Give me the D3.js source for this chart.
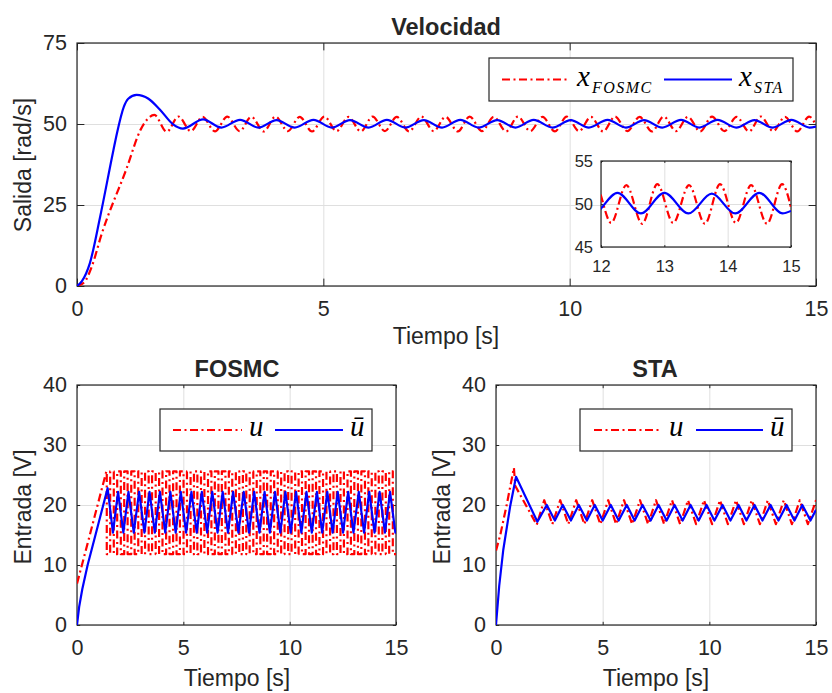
<!DOCTYPE html>
<html>
<head>
<meta charset="utf-8">
<script src="https://cdn.jsdelivr.net/npm/d3@7"></script>
<style>
body { margin: 0; background: #fff; }
text { font-family: "Liberation Sans", Arial, sans-serif; fill: #262626; }
.math { font-family: "Liberation Serif", "Times New Roman", serif; font-style: italic; fill: #000; }
</style>
</head>
<body>
<svg id="fig" width="832" height="693"></svg>
<script>
// ---- Velocidad: x_FOSMC (red) and x_STA (blue), time [s] / value [rad/s]
var velTimeFosmc = [0, 0.15, 0.3, 0.5, 1.0, 1.3, 1.57,
  1.82, 2.06, 2.31, 2.55, 2.80, 3.05, 3.30, 3.54, 3.79, 4.03, 4.28, 4.52, 4.77, 5.02,
  5.27, 5.51, 5.76, 6.00, 6.25, 6.49, 6.74, 6.99, 7.24, 7.48, 7.73, 7.97, 8.22, 8.46,
  8.71, 8.95, 9.20, 9.45, 9.70, 9.94, 10.19, 10.43, 10.68, 10.92, 11.17, 11.42, 11.67, 11.91,
  12.16, 12.40, 12.65, 12.89, 13.14, 13.39, 13.64, 13.88, 14.13, 14.37, 14.62, 14.86, 15.0];
var velFosmc = [0, 1.2, 6, 16, 36, 48.5, 52.8,
  47.6, 52.3, 47.8, 52.2, 47.7, 52.3, 47.8, 52.2, 47.7, 52.3, 47.8, 52.2, 47.7, 52.3,
  47.8, 52.2, 47.7, 52.3, 47.8, 52.2, 47.7, 52.3, 47.8, 52.2, 47.7, 52.3, 47.8, 52.2,
  47.7, 52.3, 47.8, 52.2, 47.7, 52.3, 47.8, 52.2, 47.7, 52.3, 47.8, 52.2, 47.7, 52.3,
  47.8, 52.2, 47.7, 52.3, 47.8, 52.2, 47.7, 52.3, 47.8, 52.2, 47.7, 52.3, 49.6];

var velTimeSta = [0, 0.1, 0.26, 0.47, 0.74, 0.81, 0.95, 1.04, 1.21, 1.45, 1.68, 1.95, 2.15,
  2.56, 2.93, 3.31, 3.68, 4.05, 4.42, 4.80, 5.17, 5.54, 5.92, 6.29, 6.66, 7.04, 7.41,
  7.78, 8.15, 8.53, 8.90, 9.27, 9.65, 10.02, 10.39, 10.77, 11.14, 11.51, 11.88, 12.26, 12.63,
  13.00, 13.38, 13.75, 14.12, 14.50, 14.87, 15.0];
var velSta = [0, 1.5, 7, 21.4, 42, 47.1, 55.3, 57.8, 59, 57.8, 54.5, 49.9, 48.6,
  51.4, 48.9, 51.3, 48.9, 51.2, 48.9, 51.3, 48.9, 51.2, 48.9, 51.3, 48.9, 51.2, 48.9,
  51.3, 48.9, 51.2, 48.9, 51.3, 48.9, 51.2, 48.9, 51.3, 48.9, 51.2, 48.9, 51.3, 48.9,
  51.3, 48.9, 51.2, 48.9, 51.3, 48.9, 49.2];

// ---- FOSMC: u (red, switching) and u-bar (blue)
var uRampTimeFosmc = [0, 0.5, 1.38];
var uRampFosmc = [6.9, 13.6, 25.6];
var uLevelsFosmc = [25.6, 11.8];   // high / low level of the switching input
var uSwitchFosmc = [1.40, 1.56, 1.73, 1.89, 2.06, 2.22, 2.38, 2.55, 2.71, 2.88, 3.04, 3.20,
  3.37, 3.53, 3.70, 3.86, 4.02, 4.19, 4.35, 4.52, 4.68, 4.84, 5.01, 5.17, 5.34, 5.50,
  5.66, 5.83, 5.99, 6.16, 6.32, 6.48, 6.65, 6.81, 6.98, 7.14, 7.30, 7.47, 7.63, 7.80,
  7.96, 8.12, 8.29, 8.45, 8.62, 8.78, 8.94, 9.11, 9.27, 9.44, 9.60, 9.76, 9.93, 10.09,
  10.26, 10.42, 10.58, 10.75, 10.91, 11.08, 11.24, 11.40, 11.57, 11.73, 11.90, 12.06,
  12.22, 12.39, 12.55, 12.72, 12.88, 13.04, 13.21, 13.37, 13.54, 13.70, 13.86, 14.03,
  14.19, 14.36, 14.52, 14.68, 14.85];

var uBarTimeFosmc = [0, 0.1, 0.25, 0.5, 1.0, 1.44,
  1.69, 1.93, 2.18, 2.42, 2.67, 2.92, 3.17, 3.41, 3.66, 3.90, 4.15, 4.39, 4.64, 4.88,
  5.13, 5.38, 5.63, 5.87, 6.12, 6.36, 6.61, 6.85, 7.10, 7.34, 7.59, 7.84, 8.09, 8.33,
  8.58, 8.82, 9.07, 9.31, 9.56, 9.80, 10.05, 10.30, 10.55, 10.79, 11.04, 11.28, 11.53, 11.77,
  12.02, 12.26, 12.51, 12.75, 13.00, 13.25, 13.50, 13.74, 13.99, 14.23, 14.48, 14.72, 14.97, 15.0];
var uBarFosmc = [0, 3, 6, 10, 16.8, 22.8,
  15.4, 22.2, 15.4, 22.2, 15.4, 22.2, 15.4, 22.2, 15.4, 22.2, 15.4, 22.2, 15.4, 22.2,
  15.4, 22.2, 15.4, 22.2, 15.4, 22.2, 15.4, 22.2, 15.4, 22.2, 15.4, 22.2, 15.4, 22.2,
  15.4, 22.2, 15.4, 22.2, 15.4, 22.2, 15.4, 22.2, 15.4, 22.2, 15.4, 22.2, 15.4, 22.2,
  15.4, 22.2, 15.4, 22.2, 15.4, 22.2, 15.4, 22.2, 15.4, 22.2, 15.4, 22.2, 15.4, 15.8];

// ---- STA: u (red) and u-bar (blue)
var uTimeSta = [0, 0.2, 0.5, 0.84, 0.9, 1.91,
  2.26, 2.64, 3.01, 3.39, 3.76, 4.14, 4.51, 4.89, 5.26, 5.63, 6.00, 6.38, 6.75, 7.13,
  7.50, 7.88, 8.25, 8.63, 9.00, 9.38, 9.75, 10.13, 10.50, 10.87, 11.25, 11.62, 11.99, 12.37,
  12.74, 13.12, 13.49, 13.87, 14.24, 14.62, 14.99, 15.0];
var uSta = [12.4, 15, 20, 26.2, 23.2, 16.7,
  20.8, 16.8, 20.8, 16.8, 20.8, 16.8, 20.8, 16.8, 20.8, 16.8, 20.8, 16.8, 20.8, 16.8,
  20.8, 16.8, 20.8, 16.8, 20.8, 16.8, 20.8, 16.8, 20.8, 16.8, 20.8, 16.8, 20.8, 16.8,
  20.8, 16.8, 20.8, 16.8, 20.8, 16.8, 20.7, 20.7];

var uBarTimeSta = [0, 0.15, 0.34, 0.66, 0.94, 1.94,
  2.38, 2.76, 3.13, 3.51, 3.88, 4.26, 4.63, 5.00, 5.38, 5.75, 6.13, 6.50, 6.87, 7.25,
  7.62, 8.00, 8.37, 8.75, 9.12, 9.50, 9.87, 10.24, 10.62, 10.99, 11.37, 11.74, 12.12, 12.49,
  12.87, 13.24, 13.62, 13.99, 14.36, 14.74, 15.0];
var uBarSta = [0, 6.5, 12.5, 19.7, 24.7, 17.2,
  20.0, 17.4, 20.0, 17.4, 20.0, 17.4, 20.0, 17.4, 20.0, 17.4, 20.0, 17.4, 20.0, 17.4,
  20.0, 17.4, 20.0, 17.4, 20.0, 17.4, 20.0, 17.4, 20.0, 17.4, 20.0, 17.4, 20.0, 17.4,
  20.0, 17.4, 20.0, 17.4, 20.0, 17.4, 19.2];

var timeTicks = [0, 5, 10, 15];
var velTicks = [0, 25, 50, 75];
var inputTicks = [0, 10, 20, 30, 40];
var insetTimeTicks = [12, 13, 14, 15];
var insetVelTicks = [45, 50, 55];

var svg = d3.select("#fig");
var red = "#ff0000", blue = "#0000ff", dashDot = "8,3.5,2,3.5", lw = 2.2;

// one MATLAB-like axes: white box, light grid, inward ticks on all sides
function makeAxes(o) {
  var g = svg.append("g").attr("transform", "translate(" + o.left + "," + o.top + ")");
  var x = d3.scaleLinear().domain(o.xDomain).range([0, o.width]);
  var y = d3.scaleLinear().domain(o.yDomain).range([o.height, 0]);
  var tl = 0.01 * Math.max(o.width, o.height);

  g.append("rect").attr("width", o.width).attr("height", o.height).attr("fill", "#fff");

  // grid
  g.append("g").attr("class", "grid").attr("transform", "translate(0," + o.height + ")")
    .call(d3.axisBottom(x).tickValues(o.xTicks).tickSize(-o.height).tickFormat(""));
  g.append("g").attr("class", "grid")
    .call(d3.axisLeft(y).tickValues(o.yTicks).tickSize(-o.width).tickFormat(""));
  g.selectAll(".grid .domain").remove();
  g.selectAll(".grid line").attr("stroke", "#dfdfdf").attr("stroke-width", 1);

  // ticks + labels
  g.append("g").attr("class", "ax").attr("transform", "translate(0," + o.height + ")")
    .call(d3.axisBottom(x).tickValues(o.xTicks).tickSize(-tl).tickPadding(o.xPad).tickFormat(d3.format("d")));
  g.append("g").attr("class", "ax")
    .call(d3.axisLeft(y).tickValues(o.yTicks).tickSize(-tl).tickPadding(o.yPad).tickFormat(d3.format("d")));
  g.append("g").attr("class", "ax")
    .call(d3.axisTop(x).tickValues(o.xTicks).tickSize(-tl).tickFormat(""));
  g.append("g").attr("class", "ax").attr("transform", "translate(" + o.width + ",0)")
    .call(d3.axisRight(y).tickValues(o.yTicks).tickSize(-tl).tickFormat(""));
  g.selectAll(".ax .domain").remove();
  g.selectAll(".ax line").attr("stroke", "#262626");
  g.selectAll(".ax text").attr("font-size", o.fs).attr("fill", "#262626")
    .style("font-family", "'Liberation Sans', Arial, sans-serif");

  g.append("rect").attr("width", o.width).attr("height", o.height)
    .attr("fill", "none").attr("stroke", "#262626").attr("stroke-width", 1.2);

  g.append("clipPath").attr("id", o.id).append("rect")
    .attr("width", o.width).attr("height", o.height);
  var plot = g.append("g").attr("clip-path", "url(#" + o.id + ")");
  return { g: g, x: x, y: y, plot: plot, w: o.width, h: o.height };
}

function drawLine(ax, pts, color, dashed, curve) {
  var line = d3.line()
    .x(function (d) { return ax.x(d[0]); })
    .y(function (d) { return ax.y(d[1]); })
    .curve(curve || d3.curveLinear);
  ax.plot.append("path").datum(pts)
    .attr("d", line)
    .attr("fill", "none")
    .attr("stroke", color)
    .attr("stroke-width", lw)
    .attr("stroke-linejoin", "round")
    .attr("stroke-dasharray", dashed ? dashDot : null);
}

function addText(x, y, str, size, opts) {
  opts = opts || {};
  var t = svg.append("text").attr("x", x).attr("y", y)
    .attr("text-anchor", "middle").attr("font-size", size)
    .attr("dominant-baseline", "central").text(str);
  if (opts.bold) t.attr("font-weight", "bold").attr("fill", "#000");
  if (opts.rotate) t.attr("transform", "rotate(-90," + x + "," + y + ")");
  return t;
}

// legend box: two entries, red dash-dot and blue solid
function legend(box, items) {
  var g = svg.append("g");
  g.append("rect").attr("x", box.x).attr("y", box.y).attr("width", box.w).attr("height", box.h)
    .attr("fill", "#fff").attr("stroke", "#262626").attr("stroke-width", 1.2);
  var cy = box.y + box.h / 2;
  items.forEach(function (it) {
    g.append("line").attr("x1", it.x1).attr("x2", it.x2).attr("y1", cy).attr("y2", cy)
      .attr("stroke", it.color).attr("stroke-width", lw)
      .attr("stroke-dasharray", it.dashed ? dashDot : null);
    var t = g.append("text").attr("class", "math").attr("x", it.tx).attr("y", cy + 6)
      .attr("font-size", 29).text(it.main);
    if (it.sub) {
      t.append("tspan").attr("font-size", 16).attr("dy", 7).attr("dx", 2)
        .attr("letter-spacing", 1.5).text(it.sub);
    }
  });
}

// ---------------- top: Velocidad ----------------
var top1 = makeAxes({ id: "cTop", left: 77, top: 43, width: 739, height: 243,
  xDomain: [0, 15], yDomain: [0, 75], xTicks: timeTicks, yTicks: velTicks,
  fs: 21.5, xPad: 15, yPad: 10 });
drawLine(top1, d3.zip(velTimeFosmc, velFosmc), red, true, d3.curveMonotoneX);
drawLine(top1, d3.zip(velTimeSta, velSta), blue, false, d3.curveMonotoneX);
addText(446, 27, "Velocidad", 23.5, { bold: true });
addText(446, 336, "Tiempo [s]", 23);
addText(23, 165, "Salida [rad/s]", 23, { rotate: true });

legend({ x: 489, y: 58, w: 304, h: 43 }, [
  { x1: 502, x2: 568, color: red, dashed: true, tx: 577, main: "x", sub: "FOSMC" },
  { x1: 664, x2: 732, color: blue, dashed: false, tx: 739, main: "x", sub: "STA" }
]);

// inset zoom 12..15 s
var inset = makeAxes({ id: "cInset", left: 601, top: 161, width: 190, height: 86,
  xDomain: [12, 15], yDomain: [45, 55], xTicks: insetTimeTicks, yTicks: insetVelTicks,
  fs: 16.5, xPad: 13, yPad: 8 });
drawLine(inset, d3.zip(velTimeFosmc, velFosmc), red, true, d3.curveMonotoneX);
drawLine(inset, d3.zip(velTimeSta, velSta), blue, false, d3.curveMonotoneX);

// ---------------- bottom left: FOSMC ----------------
var fos = makeAxes({ id: "cFos", left: 77, top: 385, width: 319, height: 240,
  xDomain: [0, 15], yDomain: [0, 40], xTicks: timeTicks, yTicks: inputTicks,
  fs: 21.5, xPad: 15, yPad: 10 });
var uPts = d3.zip(uRampTimeFosmc, uRampFosmc);
var lvl = 0;
uSwitchFosmc.forEach(function (t) {
  uPts.push([t, uLevelsFosmc[lvl]]);
  lvl = 1 - lvl;
  uPts.push([t, uLevelsFosmc[lvl]]);
});
uPts.push([15, uLevelsFosmc[lvl]]);
drawLine(fos, uPts, red, true);
drawLine(fos, d3.zip(uBarTimeFosmc, uBarFosmc), blue, false);
addText(237, 369, "FOSMC", 23.5, { bold: true });
addText(237, 678, "Tiempo [s]", 23);
addText(23, 507, "Entrada [V]", 23, { rotate: true });
legend({ x: 160, y: 409, w: 212, h: 42 }, [
  { x1: 173, x2: 242, color: red, dashed: true, tx: 249, main: "u" },
  { x1: 275, x2: 343, color: blue, dashed: false, tx: 350, main: "\u016B" }
]);

// ---------------- bottom right: STA ----------------
var sta = makeAxes({ id: "cSta", left: 496, top: 385, width: 320, height: 240,
  xDomain: [0, 15], yDomain: [0, 40], xTicks: timeTicks, yTicks: inputTicks,
  fs: 21.5, xPad: 15, yPad: 10 });
drawLine(sta, d3.zip(uTimeSta, uSta), red, true);
drawLine(sta, d3.zip(uBarTimeSta, uBarSta), blue, false);
addText(655, 369, "STA", 23.5, { bold: true });
addText(656, 678, "Tiempo [s]", 23);
addText(442, 507, "Entrada [V]", 23, { rotate: true });
legend({ x: 580, y: 409, w: 212, h: 42 }, [
  { x1: 594, x2: 662, color: red, dashed: true, tx: 669, main: "u" },
  { x1: 696, x2: 763, color: blue, dashed: false, tx: 770, main: "\u016B" }
]);
</script>
</body>
</html>
